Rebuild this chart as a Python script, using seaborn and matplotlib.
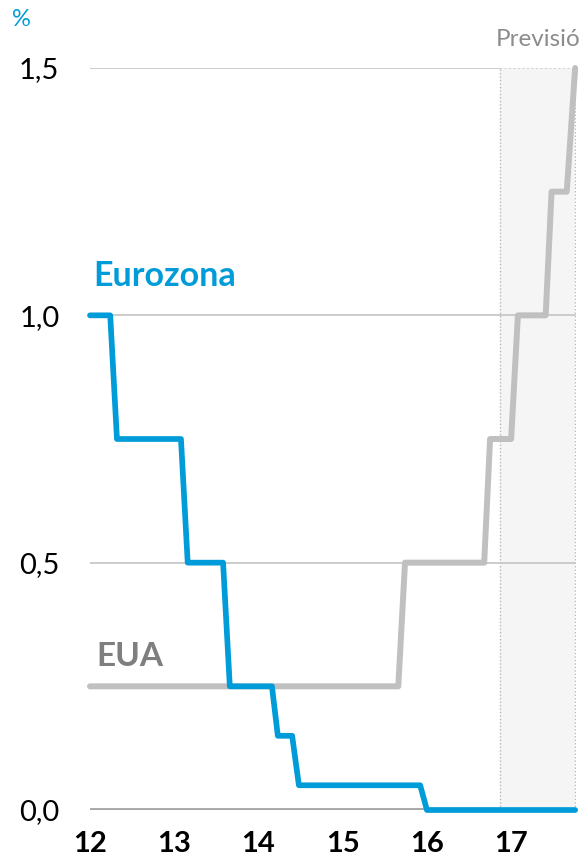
import matplotlib
matplotlib.use("Agg")
import matplotlib.pyplot as plt
import pandas as pd
import seaborn as sns

# reference rates (%), x in years (12 = 2012)
euro_x = [12.0, 12.24, 12.32, 13.08, 13.16, 13.58, 13.66, 14.16, 14.23, 14.40, 14.48, 15.92, 16.0, 17.76]
euro_y = [1.0, 1.0, 0.75, 0.75, 0.5, 0.5, 0.25, 0.25, 0.15, 0.15, 0.05, 0.05, 0.0, 0.0]
us_x = [12.0, 15.66, 15.74, 16.68, 16.75, 17.0, 17.08, 17.41, 17.48, 17.66, 17.76]
us_y = [0.25, 0.25, 0.5, 0.5, 0.75, 0.75, 1.0, 1.0, 1.25, 1.25, 1.5]
forecast_span = (16.87, 17.76)
x_ticks = [12, 13, 14, 15, 16, 17]
y_ticks = [0.0, 0.5, 1.0, 1.5]
y_labels = ["0,0", "0,5", "1,0", "1,5"]

BLUE = "#009bd9"
GREY_LINE = "#c0c0c0"
GREY_TEXT = "#7f7f7f"

sns.set_theme(style="white")
plt.rcParams["font.family"] = ["Lato", "DejaVu Sans"]

euro = pd.DataFrame({"x": euro_x, "y": euro_y})
us = pd.DataFrame({"x": us_x, "y": us_y})

fig = plt.figure(figsize=(5.83, 8.56), dpi=100)
ax = fig.add_axes([90 / 583, 46 / 856, 486 / 583, 742 / 856])

# forecast band
ax.axvspan(*forecast_span, color="#f5f5f5", zorder=0, lw=0)
for xv in forecast_span:
    ax.axvline(xv, color="#b8b8b8", lw=1.0, ls=(0, (1, 1.5)), zorder=1)

# grid
for yv in y_ticks[1:]:
    ax.plot([12.0, forecast_span[0]], [yv, yv], color="#c8c8c8", lw=1.3, zorder=1)
    ax.plot([forecast_span[0], forecast_span[1]], [yv, yv], color="#c8c8c8", lw=1.3,
            ls=(0, (1, 1.5)) if yv == 1.5 else "-", zorder=1)
ax.axhline(0, color="#a6a6a6", lw=3.5, zorder=1)

sns.lineplot(data=us, x="x", y="y", sort=False, color=GREY_LINE, lw=4.3, ax=ax,
             zorder=3, clip_on=False, solid_joinstyle="round")
sns.lineplot(data=euro, x="x", y="y", sort=False, color=BLUE, lw=4.1, ax=ax,
             zorder=4, clip_on=False, solid_joinstyle="round")

ax.set_xlim(12.0, 17.77)
ax.set_ylim(0, 1.5)
ax.set_xticks(x_ticks)
ax.set_xticklabels([str(t) for t in x_ticks], fontsize=21, fontweight="bold", color="black")
ax.set_yticks(y_ticks)
ax.set_yticklabels(y_labels, fontsize=21, color="black")
ax.tick_params(axis="x", length=0, pad=15)
ax.tick_params(axis="y", length=0, pad=22)
ax.set_xlabel("")
ax.set_ylabel("")
for s in ax.spines.values():
    s.set_visible(False)

ax.text(12.035, 1.08, "Eurozona", color=BLUE, fontsize=24.5, fontweight="bold", va="center", ha="left")
ax.text(12.07, 0.31, "EUA", color=GREY_TEXT, fontsize=24, fontweight="bold", va="center", ha="left")
fig.text(12 / 583, 1 - 19 / 856, "%", color=BLUE, fontsize=17, va="center", ha="left")
fig.text(581 / 583, 1 - 40 / 856, "Previsió", color="#8c8c8c", fontsize=17.5, va="center", ha="right")

fig.savefig("out.png", dpi=100)
